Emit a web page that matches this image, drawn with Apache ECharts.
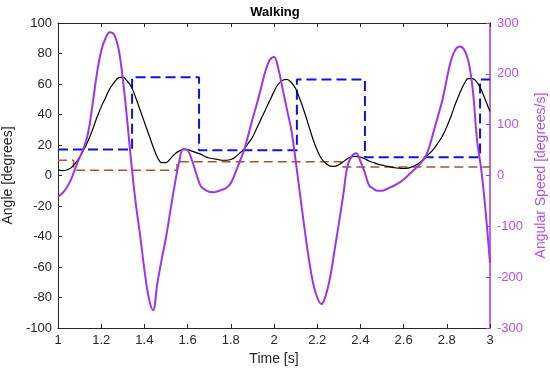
<!DOCTYPE html>
<html><head><meta charset="utf-8">
<script src="https://cdn.jsdelivr.net/npm/echarts@6/dist/echarts.min.js"></script>
<style>html,body{margin:0;padding:0;background:#fff}#c{width:550px;height:370px}</style>
</head><body><div id="c"></div>
<script>
// ---- data ----
const chartTitle = 'Walking';
const xName = 'Time [s]';
const leftName = 'Angle [degrees]';
const rightName = 'Angular Speed [degrees/s]';

// sample times (s) at which both curves were read
const sampleTime = [
  1.00,1.02,1.04,1.06,1.08,1.10,1.12,1.14,1.16,1.18,
  1.20,1.22,1.24,1.26,1.28,1.30,1.32,1.34,1.36,1.38,
  1.40,1.42,1.44,1.46,1.48,1.50,1.52,1.54,1.56,1.58,
  1.60,1.62,1.64,1.66,1.68,1.70,1.72,1.74,1.76,1.78,
  1.80,1.82,1.84,1.86,1.88,1.90,1.92,1.94,1.96,1.98,
  2.00,2.02,2.04,2.06,2.08,2.10,2.12,2.14,2.16,2.18,
  2.20,2.22,2.24,2.26,2.28,2.30,2.32,2.34,2.36,2.38,
  2.40,2.42,2.44,2.46,2.48,2.50,2.52,2.54,2.56,2.58,
  2.60,2.62,2.64,2.66,2.68,2.70,2.72,2.74,2.76,2.78,
  2.80,2.82,2.84,2.86,2.88,2.90,2.92,2.94,2.96,2.98,
  3.00];

// Angle [degrees] (black, left axis)
const angleValue = [
  3.5,3.2,3.6,5,8,12,17,23,30,38,
  45,51,57,61,64,64.5,62,58,51,43,
  35,27,19,12,8.5,8.5,11,14,16,17,
  17,16,15,14,12.5,11.5,11,10.5,10,10,
  10.5,12,14.5,17,21,25,31,37,43,49,
  55,60,62.5,63,61,57,50,42,33,24,
  16.5,11,8,6.2,6,7,9,11,12.3,12.5,
  12,11,9.5,8.5,7.5,6.8,6.2,5.6,5.1,4.8,
  4.6,4.8,5.8,7,9,12,14.5,17.5,21.5,26,
  32,39,47,54,60,63.5,63.5,61,56,49,
  42];

// Angular speed [degrees/s] (purple, right axis)
const speedValue = [
  -42,-35,-24,-8,14,35,55,85,140,200,
  245,270,282,277,250,190,110,22,-55,-117,
  -185,-240,-265,-212,-165,-122,-70,-19,25,52,
  50,30,4,-20,-28,-32,-33,-31,-28,-24,
  -15,4,26,48,78,110,140,172,205,227,
  233,210,170,130,90,30,-35,-100,-160,-210,
  -240,-253,-235,-200,-148,-95,-40,18,38,44,
  28,6,-19,-26,-30,-30,-27,-23,-19,-14,
  -8,0,8,16,25,36,58,88,118,149,
  190,227,248,254,248,225,170,70,10,-72,
  -172];

// Blue dashed step (left axis)
const blueTime  = [1.0, 1.343, 1.653, 2.106, 2.421, 2.954, 3.0];
const blueValue = [17, 64.5, 16.5, 63, 12, 63, 63];

// Brown dashed step (left axis)
const brownTime  = [1.0, 1.072, 1.551, 2.31, 3.0];
const brownValue = [10, 3.5, 9, 5.5, 5.5];

const pairs = (t, v) => t.map((x, i) => [x, v[i]]);

const FONT = "'Liberation Sans', Arial, Helvetica, sans-serif";
const PURPLE = '#9d34ee';
const PURPLE_TXT = '#b64fee';
const TXT = '#262626';

const chart = echarts.init(document.getElementById('c'), null, {renderer: 'canvas'});
chart.setOption({
  animation: false,
  backgroundColor: '#ffffff',
  title: {
    text: chartTitle, left: 'center', top: 1,
    textStyle: {fontFamily: FONT, fontSize: 13, fontWeight: 'bold', color: '#000'}
  },
  grid: {left: 58, right: 60, top: 23, bottom: 42, containLabel: false, outerBoundsMode: 'none'},
  xAxis: [{
    type: 'value', min: 1, max: 3, interval: 0.2, position: 'bottom',
    name: xName, nameLocation: 'middle', nameGap: 23,
    nameTextStyle: {fontFamily: FONT, fontSize: 14, color: TXT},
    axisLine: {show: true, onZero: false, lineStyle: {color: TXT, width: 1}},
    axisTick: {show: true, inside: true, length: 4, lineStyle: {color: TXT}},
    axisLabel: {fontFamily: FONT, fontSize: 13, color: TXT, margin: 6,
      formatter: v => String(Math.round(v * 10) / 10)},
    splitLine: {show: false}
  }, {
    type: 'value', min: 1, max: 3, interval: 0.2, position: 'top',
    axisLine: {show: true, onZero: false, lineStyle: {color: TXT, width: 1}},
    axisTick: {show: true, inside: true, length: 4, lineStyle: {color: TXT}},
    axisLabel: {show: false}, splitLine: {show: false}
  }],
  yAxis: [{
    type: 'value', min: -100, max: 100, interval: 20, position: 'left',
    name: leftName, nameLocation: 'middle', nameGap: 40, nameRotate: 90,
    nameTextStyle: {fontFamily: FONT, fontSize: 14, color: TXT},
    axisLine: {show: true, onZero: false, lineStyle: {color: TXT, width: 1}},
    axisTick: {show: true, inside: true, length: 4, lineStyle: {color: TXT}},
    axisLabel: {fontFamily: FONT, fontSize: 13, color: TXT, margin: 6},
    splitLine: {show: false}
  }, {
    type: 'value', min: -300, max: 300, interval: 100, position: 'right',
    name: rightName, nameLocation: 'middle', nameGap: 42, nameRotate: 90,
    nameTextStyle: {fontFamily: FONT, fontSize: 14, color: PURPLE_TXT},
    axisLine: {show: true, onZero: false, lineStyle: {color: PURPLE, width: 1.5}},
    axisTick: {show: true, inside: true, length: 4, lineStyle: {color: PURPLE}},
    axisLabel: {fontFamily: FONT, fontSize: 13, color: PURPLE_TXT, margin: 7},
    splitLine: {show: false}
  }],
  series: [{
    name: 'brown', type: 'line', xAxisIndex: 0, yAxisIndex: 0, step: 'end',
    data: pairs(brownTime, brownValue), symbol: 'none',
    lineStyle: {color: '#a5552a', width: 1.5, type: [9, 5]}
  }, {
    name: 'blue', type: 'line', xAxisIndex: 0, yAxisIndex: 0, step: 'end',
    data: pairs(blueTime, blueValue), symbol: 'none',
    lineStyle: {color: '#1010e8', width: 2, type: [10, 5]}
  }, {
    name: 'angle', type: 'line', xAxisIndex: 0, yAxisIndex: 0,
    data: pairs(sampleTime, angleValue), symbol: 'none', smooth: 0.4,
    lineStyle: {color: '#000000', width: 1.2}
  }, {
    name: 'speed', type: 'line', xAxisIndex: 0, yAxisIndex: 1,
    data: pairs(sampleTime, speedValue), symbol: 'none', smooth: 0.4,
    lineStyle: {color: PURPLE, width: 2}
  }]
});
</script>
</body></html>
